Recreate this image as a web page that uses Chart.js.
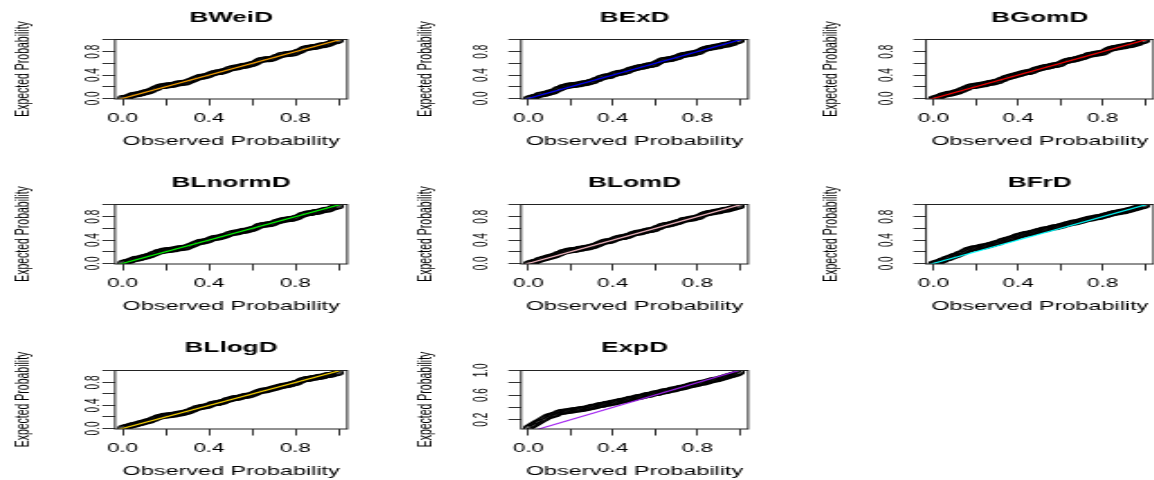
<!DOCTYPE html>
<html><head><meta charset="utf-8">
<script src="https://cdn.jsdelivr.net/npm/chart.js@4.4.1/dist/chart.umd.min.js"></script>
<style>
html,body{margin:0;padding:0;background:#fff;width:1154px;height:480px;overflow:hidden;position:relative}
.cell{position:absolute;transform-origin:0 0}
canvas{display:block}
</style></head><body>
<script>
// ---------- data ----------
const obsProb = [0.00,0.01,0.02,0.03,0.04,0.05,0.06,0.07,0.08,0.09,0.10,0.11,0.12,0.13,0.14,0.15,0.16,0.17,0.18,0.19,
0.20,0.21,0.22,0.23,0.24,0.25,0.26,0.27,0.28,0.29,0.30,0.31,0.32,0.33,0.34,0.35,0.36,0.37,0.38,0.39,
0.40,0.41,0.42,0.43,0.44,0.45,0.46,0.47,0.48,0.49,0.50,0.51,0.52,0.53,0.54,0.55,0.56,0.57,0.58,0.59,
0.60,0.61,0.62,0.63,0.64,0.65,0.66,0.67,0.68,0.69,0.70,0.71,0.72,0.73,0.74,0.75,0.76,0.77,0.78,0.79,
0.80,0.81,0.82,0.83,0.84,0.85,0.86,0.87,0.88,0.89,0.90,0.91,0.92,0.93,0.94,0.95,0.96,0.97,0.98,0.99,1.00];

const expBWeiD = [.01,.01,.02,.03,.05,.06,.07,.07,.08,.09,.10,.11,.12,.13,.15,.17,.18,.20,.21,.21,
.22,.22,.23,.23,.24,.25,.26,.26,.27,.27,.28,.30,.31,.33,.34,.36,.37,.37,.38,.39,
.40,.42,.43,.44,.45,.45,.46,.47,.48,.50,.51,.52,.53,.53,.54,.55,.56,.56,.57,.58,
.59,.60,.62,.64,.66,.66,.67,.67,.67,.68,.69,.71,.72,.74,.75,.75,.76,.76,.77,.77,
.78,.80,.81,.83,.85,.86,.87,.87,.88,.88,.89,.90,.91,.91,.92,.93,.94,.96,.97,.98,.99];

const expBExD = [.00,.01,.02,.03,.04,.06,.07,.07,.08,.09,.10,.11,.12,.14,.16,.17,.19,.20,.21,.22,
.22,.23,.23,.24,.24,.25,.26,.26,.27,.28,.29,.30,.32,.33,.35,.36,.37,.38,.38,.39,
.41,.42,.43,.44,.44,.45,.46,.47,.49,.50,.51,.52,.53,.54,.54,.55,.56,.57,.57,.58,
.59,.61,.63,.65,.66,.66,.67,.67,.68,.69,.70,.71,.73,.74,.75,.75,.76,.77,.77,.78,
.79,.80,.82,.84,.85,.86,.87,.87,.88,.89,.89,.90,.91,.92,.92,.93,.94,.95,.97,.98,.99];

const expBGomD = [.00,.01,.02,.03,.05,.06,.07,.08,.08,.09,.10,.11,.12,.14,.15,.17,.18,.20,.21,.21,
.22,.22,.23,.24,.24,.25,.26,.27,.27,.28,.29,.30,.32,.33,.35,.36,.37,.38,.39,.40,
.41,.42,.43,.44,.45,.45,.46,.47,.49,.50,.51,.52,.53,.54,.54,.55,.56,.57,.57,.58,
.59,.61,.63,.64,.65,.66,.66,.67,.68,.69,.70,.71,.72,.74,.75,.75,.76,.77,.77,.78,
.78,.80,.82,.84,.85,.86,.87,.87,.88,.89,.89,.90,.91,.91,.92,.93,.94,.95,.97,.98,.99];

const expBLnormD = [.01,.02,.03,.04,.05,.07,.08,.08,.09,.10,.11,.12,.13,.14,.16,.17,.19,.20,.21,.22,
.22,.23,.23,.24,.24,.25,.26,.26,.27,.27,.28,.30,.31,.33,.34,.36,.37,.37,.38,.39,
.40,.42,.43,.44,.44,.45,.46,.47,.48,.50,.51,.52,.53,.53,.54,.55,.56,.56,.57,.58,
.59,.60,.62,.64,.65,.66,.66,.67,.67,.68,.69,.71,.72,.73,.74,.75,.75,.76,.76,.77,
.78,.79,.81,.83,.84,.85,.86,.86,.87,.88,.88,.89,.90,.91,.92,.92,.93,.95,.96,.97,.98];

const expBLomD = [.00,.01,.02,.03,.04,.06,.07,.08,.09,.10,.11,.12,.13,.14,.16,.17,.19,.20,.21,.22,
.22,.23,.23,.24,.25,.25,.26,.27,.27,.28,.29,.30,.31,.33,.34,.36,.37,.38,.38,.39,
.40,.42,.43,.44,.45,.45,.46,.47,.48,.50,.51,.52,.53,.53,.54,.55,.56,.57,.57,.58,
.59,.61,.62,.64,.65,.66,.66,.67,.68,.69,.70,.71,.72,.74,.75,.75,.76,.77,.77,.78,
.79,.80,.82,.84,.85,.86,.87,.87,.88,.89,.89,.90,.91,.92,.92,.93,.94,.95,.96,.97,.98];

const expBFrD = [.00,.01,.02,.03,.05,.06,.08,.09,.10,.12,.13,.14,.16,.17,.19,.21,.23,.24,.25,.26,
.26,.27,.28,.29,.29,.30,.31,.32,.33,.34,.35,.36,.38,.39,.40,.41,.42,.43,.44,.46,
.47,.48,.49,.50,.51,.51,.52,.53,.54,.55,.56,.57,.58,.58,.59,.60,.61,.62,.62,.63,
.64,.65,.66,.67,.68,.69,.70,.70,.71,.72,.73,.74,.75,.76,.77,.77,.78,.79,.79,.80,
.81,.82,.83,.84,.85,.86,.87,.87,.88,.89,.89,.90,.91,.92,.93,.94,.95,.96,.97,.98,.99];

const expBLlogD = [.01,.02,.03,.04,.05,.06,.07,.08,.09,.10,.11,.12,.13,.14,.16,.17,.19,.20,.21,.22,
.22,.23,.23,.24,.24,.25,.26,.26,.27,.28,.29,.30,.32,.33,.35,.36,.37,.38,.38,.39,
.40,.42,.43,.44,.44,.45,.46,.47,.49,.50,.51,.52,.53,.53,.54,.55,.56,.57,.57,.58,
.59,.61,.62,.64,.65,.66,.66,.67,.68,.69,.70,.71,.72,.73,.74,.75,.75,.76,.77,.78,
.79,.80,.82,.84,.85,.86,.86,.87,.88,.88,.89,.90,.90,.91,.92,.93,.93,.94,.95,.96,.97];

const expExpD = [.07,.09,.11,.13,.15,.17,.19,.21,.23,.25,.26,.27,.28,.29,.31,.32,.33,.33,.34,.34,
.35,.35,.36,.36,.37,.37,.38,.38,.39,.40,.41,.41,.42,.43,.44,.44,.45,.46,.46,.47,
.48,.48,.49,.50,.51,.51,.52,.53,.54,.54,.55,.56,.57,.57,.58,.59,.60,.60,.61,.62,
.63,.63,.64,.65,.66,.66,.67,.68,.69,.69,.70,.71,.72,.72,.73,.74,.75,.76,.77,.77,
.78,.79,.80,.80,.81,.82,.83,.84,.85,.85,.86,.87,.88,.89,.90,.91,.92,.93,.94,.95,.97];

const diagonal = [-0.2, 1.2];              // reference line y = x
const xTickValues = [0, 0.2, 0.4, 0.6, 0.8, 1.0];
const xTickLabels = ['0.0', '', '0.4', '', '0.8', ''];
const yTickValuesB = [0, 0.2, 0.4, 0.6, 0.8, 1.0];
const yTickLabelsB = ['0.0', '', '0.4', '', '0.8', ''];
const yTickValuesE = [0.2, 0.4, 0.6, 0.8, 1.0];
const yTickLabelsE = ['0.2', '', '0.6', '', '1.0'];
const panelTitles = ['BWeiD','BExD','BGomD','BLnormD','BLomD','BFrD','BLlogD','ExpD'];
const panelSeries = [expBWeiD, expBExD, expBGomD, expBLnormD, expBLomD, expBFrD, expBLlogD, expExpD];

// ---------- styling / layout ----------
const lineColors = ['#FFA500','#0000FF','#FF0000','#00FF00','#FFC0CB','#00FFFF','#FFD700','#A020F0'];
const S = 1.8;   // horizontal stretch of the original picture
const FONT = "'Liberation Sans', Arial, Helvetica, sans-serif";
const cols = [
  {cellL:0,   cellR:356,  boxL:115, boxR:350.5, yTitle:24,  yTick:94},
  {cellL:390, cellR:758,  boxL:521, boxR:752.5, yTitle:427, yTick:482},
  {cellL:790, cellR:1162, boxL:926, boxR:1158,  yTitle:831, yTick:888}
];
const rows = [
  {top:0,   h:150, boxT:39,  boxB:99,  titleY:18,  xTickY:118.5, xTitleY:141},
  {top:165, h:150, boxT:204, boxB:264, titleY:183, xTickY:283.5, xTitleY:306},
  {top:330, h:150, boxT:370, boxB:429, titleY:348, xTickY:448.5, xTitleY:471}
];
const F = {title:14.5, xTick:12.5, xTitle:13, yTick:10, yTitle:10.5};
const TL = {x:6.5, y:7};

const mctx = document.createElement('canvas').getContext('2d');
function textW(t, size){ mctx.font = size + 'px ' + FONT; return mctx.measureText(t).width; }

const boxPlugin = {
  id:'box',
  afterDraw(chart){
    const a = chart.chartArea, ctx = chart.ctx;
    ctx.save();
    ctx.strokeStyle = '#222'; ctx.lineWidth = 1;
    ctx.strokeRect(a.left, a.top + 0.5, a.right - a.left, a.bottom - a.top - 0.5);
    ctx.restore();
  }
};

panelTitles.forEach((title, idx) => {
  const c = cols[idx % 3], r = rows[Math.floor(idx / 3)];
  const isExp = title === 'ExpD';
  const div = document.createElement('div');
  div.className = 'cell';
  div.style.left = c.cellL + 'px';
  div.style.top = r.top + 'px';
  div.style.transform = 'scaleX(' + S + ')';
  const cv = document.createElement('canvas');
  const W = (c.cellR - c.cellL) / S;
  cv.width = Math.round(W); cv.height = r.h;
  cv.style.width = Math.round(W) + 'px'; cv.style.height = r.h + 'px';
  div.appendChild(cv); document.body.appendChild(div);

  const yAxisW = (c.boxL - c.cellL) / S;
  const padRight = Math.round(W) - (c.boxR - c.cellL) / S;
  const xAxisH = r.h - (r.boxB - r.top);
  const tLH = F.title * 1.2;
  const tPadTop = r.titleY - r.top - tLH / 2;
  const tPadBot = (r.boxT - r.top) - tPadTop - tLH;
  const yTicksV = isExp ? yTickValuesE : yTickValuesB;
  const yTicksL = isExp ? yTickLabelsE : yTickLabelsB;
  const widest = textW(yTicksL[0], F.yTick);
  const yTickPad = (c.boxL - c.yTick) / S - TL.y - widest / 2;
  const yTitlePad = (c.yTitle - c.cellL) / S - F.yTitle * 1.2 / 2;
  const xTickPad = r.xTickY - r.boxB - TL.x - F.xTick * 1.2 / 2;
  const xTitlePad = (r.top + r.h) - r.xTitleY - F.xTitle * 1.2 / 2;
  const series = panelSeries[idx];

  new Chart(cv, {
    type:'scatter',
    data:{datasets:[
      {type:'line', data: diagonal.map(v => ({x:v, y:v})), borderColor: lineColors[idx], borderWidth:1.1,
       pointRadius:0, order:0, clip:0, tension:0},
      {type:'scatter', data: obsProb.map((x, i) => ({x, y: series[i]})), pointStyle:'circle', pointRadius:2.4,
       borderColor:'#000', backgroundColor:'rgba(0,0,0,0)', borderWidth:1.1, order:1}
    ]},
    options:{
      responsive:false, animation:false, events:[],
      layout:{padding:{left:0, right:padRight, top:0, bottom:0}},
      plugins:{
        legend:{display:false}, tooltip:{enabled:false},
        title:{display:true, text:title, fullSize:false, color:'#000',
          font:{family:FONT, size:F.title, weight:'bold'}, padding:{top:tPadTop, bottom:tPadBot}}
      },
      scales:{
        x:{type:'linear', position:'bottom', min:-0.035, max:1.04,
          afterFit:s => { s.height = xAxisH; },
          afterBuildTicks:s => { s.ticks = xTickValues.map(v => ({value:v})); },
          ticks:{callback:(v, i) => xTickLabels[i], autoSkip:false, includeBounds:false, maxRotation:0, minRotation:0,
            color:'#000', padding:xTickPad, font:{family:FONT, size:F.xTick}},
          grid:{drawOnChartArea:false, drawTicks:true, tickLength:TL.x, color:'#333', lineWidth:1},
          border:{display:false},
          title:{display:true, text:'Observed Probability', color:'#000', font:{family:FONT, size:F.xTitle},
            padding:{top:0, bottom:xTitlePad}}
        },
        y:{type:'linear', position:'left', min: isExp ? 0.05 : -0.01, max: isExp ? 1.005 : 1.017,
          afterFit:s => { s.width = yAxisW; },
          afterBuildTicks:s => { s.ticks = yTicksV.map(v => ({value:v})); },
          ticks:{callback:(v, i) => yTicksL[i], autoSkip:false, includeBounds:false, minRotation:90, maxRotation:90,
            crossAlign:'center', color:'#000', padding:yTickPad, font:{family:FONT, size:F.yTick}},
          grid:{drawOnChartArea:false, drawTicks:true, tickLength:TL.y, color:'#333', lineWidth:1},
          border:{display:false},
          title:{display:true, text:'Expected Probability', color:'#000', font:{family:FONT, size:F.yTitle},
            padding:{top:yTitlePad, bottom:0}}
        }
      }
    },
    plugins:[boxPlugin]
  });
});
</script>
</body></html>
